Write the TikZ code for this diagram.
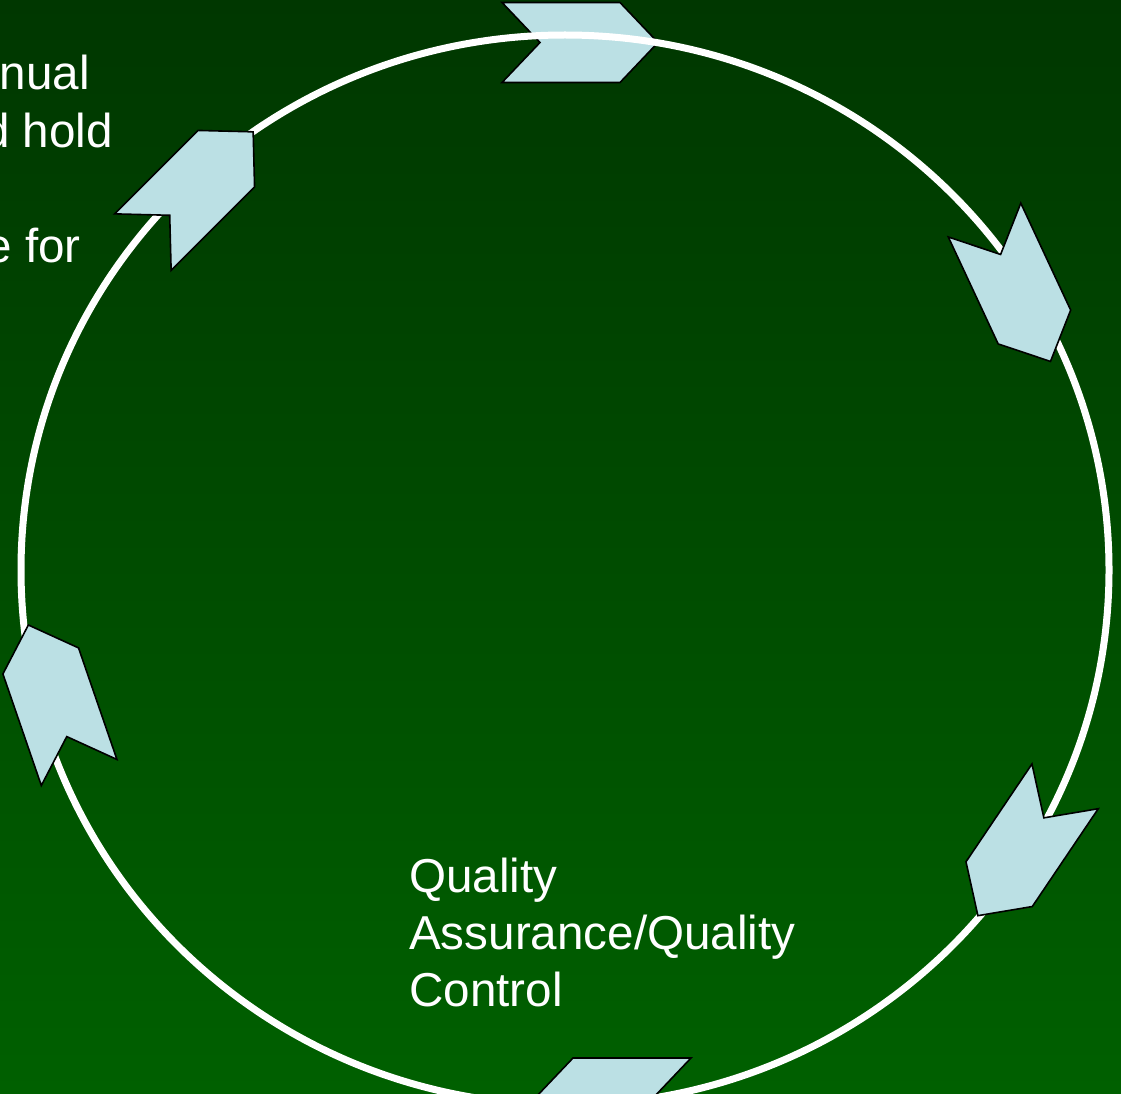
\documentclass[tikz,border=0pt]{standalone}
\usepackage{fontspec}
\setmainfont{Liberation Sans}
\usetikzlibrary{shapes,arrows}
\usetikzlibrary{positioning}

\definecolor{bgtop}{RGB}{0,55,0}
\definecolor{bgbottom}{RGB}{0,96,0}
\definecolor{chevronblue}{RGB}{187,224,228}

\tikzset{
    chevron/.pic={
        \draw[fill=chevronblue, draw=black, line width=1.6pt, line join=miter]
            (-78,40) -- (40,40) -- (78,0) -- (40,-40) -- (-78,-40) -- (-40,0) -- cycle;
    },
    cycletext/.style={text=white, inner sep=0pt, font=\fontsize{47.6}{57}\selectfont},
}

\begin{document}
\begin{tikzpicture}[x=1pt, y=-1pt]
        \useasboundingbox (0,0) rectangle (1121,1094);
        \clip (0,0) rectangle (1121,1094);
        \shade[top color=bgtop, bottom color=bgbottom] (0,0) rectangle (1121,1094);

        % the first chevron lies under the ring, the others on top of it
        \pic[rotate=0]    (c1) at (580,42.5)      {chevron};
        \draw[white, line width=7pt] (565,570) ellipse [x radius=544pt, y radius=535pt];
        \pic[rotate=-65]  (c2) at (1017.5,290.75) {chevron};
        \pic[rotate=-124] (c3) at (1021.5,851)    {chevron};
        \pic[rotate=180]  (c4) at (613,1098)      {chevron};
        \pic[rotate=109]  (c5) at (53.75,698.75)  {chevron};
        \pic[rotate=45]   (c6) at (198,187)       {chevron};

        \node[cycletext, anchor=base east] (annual) at (90,90)   {nual};
        \node[cycletext, anchor=base east] (hold)   at (113,148) {d hold};
        \node[cycletext, anchor=base east] (for)    at (81,262)  {e for};
        % base of a multi-line node is its last line
        \node[cycletext, anchor=base west, align=left] (qaqc) at (409,1006)
            {Quality\\Assurance/Quality\\Control};
\end{tikzpicture}
\end{document}
